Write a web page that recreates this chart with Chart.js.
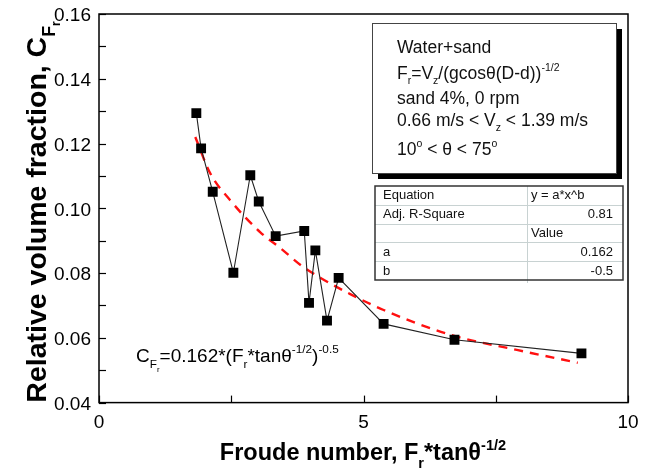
<!DOCTYPE html>
<html><head><meta charset="utf-8">
<script src="https://cdn.jsdelivr.net/npm/chart.js@4/dist/chart.umd.min.js"></script>
<style>html,body{margin:0;padding:0;background:#fff}#wrap{width:660px;height:476px;position:relative}</style>
</head><body><div id="wrap"><canvas id="c" width="660" height="476"></canvas></div>
<script>
// ---- data ----
const froude = [1.84, 1.93, 2.15, 2.54, 2.86, 3.02, 3.34, 3.88, 3.97, 4.09, 4.31, 4.53, 5.38, 6.72, 9.12];
const volumeFraction = [0.1294, 0.1185, 0.1051, 0.0801, 0.1102, 0.1021, 0.0914, 0.0930, 0.0708, 0.0870, 0.0653, 0.0785, 0.0643, 0.0594, 0.0552];
const fitX = [1.82, 2.10, 2.48, 3.05, 3.43, 3.81, 4.19, 4.75, 5.38, 6.65, 7.92, 9.05];
const fitY = [0.1220, 0.1109, 0.1025, 0.0926, 0.0877, 0.0825, 0.0785, 0.0735, 0.0686, 0.0609, 0.0562, 0.0523];
const xTickLabels = ['0', '5', '10'];
const yTickLabels = ['0.04', '0.06', '0.08', '0.10', '0.12', '0.14', '0.16'];
const tableRows = [['Equation', 'y = a*x^b'], ['Adj. R-Square', '0.81'], ['', 'Value'], ['a', '0.162'], ['b', '-0.5']];

const FONT = '"Liberation Sans", Arial, Helvetica, sans-serif';

function rich(ctx, parts, x, y, size, weight, align) {
  let total = 0;
  for (const [t, dy, s] of parts) { ctx.font = `${weight} ${size * s}px ${FONT}`; total += ctx.measureText(t).width; }
  let cx = align === 'center' ? x - total / 2 : x;
  ctx.textAlign = 'left'; ctx.textBaseline = 'alphabetic';
  for (const [t, dy, s] of parts) {
    ctx.font = `${weight} ${size * s}px ${FONT}`;
    ctx.fillText(t, cx, y + dy * size);
    cx += ctx.measureText(t).width;
  }
}

const decor = {
  id: 'decor',
  afterDraw(chart) {
    const ctx = chart.ctx, a = chart.chartArea;
    const xs = chart.scales.x, ys = chart.scales.y;
    ctx.save();
    ctx.fillStyle = '#000'; ctx.strokeStyle = '#000';
    // frame
    ctx.lineWidth = 1.5;
    ctx.strokeRect(a.left, a.top, a.right - a.left, a.bottom - a.top);
    // inward ticks
    ctx.lineWidth = 1.2;
    for (let v = 0.04; v <= 0.1601; v += 0.01) {
      const py = Math.round(ys.getPixelForValue(v)) + 0.5;
      ctx.beginPath(); ctx.moveTo(a.left, py); ctx.lineTo(a.left + 7, py); ctx.stroke();
    }
    for (let v = 0; v <= 10.01; v += 2.5) {
      const px = Math.round(xs.getPixelForValue(v)) + 0.5;
      ctx.beginPath(); ctx.moveTo(px, a.bottom); ctx.lineTo(px, a.bottom - 7); ctx.stroke();
    }
    // x title
    rich(ctx, [['Froude number, F', 0, 1], ['r', 0.32, 0.62], ['*tan\u03b8', 0, 1], ['-1/2', -0.42, 0.62]],
      363, 460, 23.5, 'bold', 'center');
    // y title
    ctx.save();
    ctx.translate(46, 212); ctx.rotate(-Math.PI / 2);
    rich(ctx, [['Relative volume fraction, C', 0, 1], ['F', 0.3, 0.62], ['r', 0.5, 0.42]], 0, 0, 28.5, 'bold', 'center');
    ctx.restore();
    // annotation box with shadow
    ctx.fillStyle = '#000';
    ctx.fillRect(378, 29, 244, 150);
    ctx.fillStyle = '#fff';
    ctx.fillRect(372, 23, 244, 150);
    ctx.lineWidth = 1; ctx.strokeStyle = '#444';
    ctx.strokeRect(372.5, 23.5, 244, 150);
    ctx.fillStyle = '#111';
    const fs = 17.5, bx = 397;
    rich(ctx, [['Water+sand', 0, 1]], bx, 53, fs, 'normal');
    rich(ctx, [['F', 0, 1], ['r', 0.3, 0.6], ['=V', 0, 1], ['z', 0.3, 0.6], ['/(gcos\u03b8(D-d))', 0, 1], ['-1/2', -0.45, 0.6]], bx, 79, fs, 'normal');
    rich(ctx, [['sand 4%, 0 rpm', 0, 1]], bx, 104, fs, 'normal');
    rich(ctx, [['0.66 m/s < V', 0, 1], ['z', 0.3, 0.6], [' < 1.39 m/s', 0, 1]], bx, 126, fs, 'normal');
    rich(ctx, [['10', 0, 1], ['o', -0.45, 0.6], [' < \u03b8 < 75', 0, 1], ['o', -0.45, 0.6]], bx, 155, fs, 'normal');
    // table
    const tl = 375, tr = 623, tt = 186, rh = 18.8, tc = 527;
    const tb = tt + rh * tableRows.length;
    ctx.fillStyle = '#fff'; ctx.fillRect(tl, tt, tr - tl, tb - tt);
    ctx.strokeStyle = '#c8d2d2'; ctx.lineWidth = 1;
    for (let i = 1; i < tableRows.length; i++) {
      const yy = Math.round(tt + rh * i) + 0.5;
      ctx.beginPath(); ctx.moveTo(tl, yy); ctx.lineTo(tr, yy); ctx.stroke();
    }
    ctx.beginPath(); ctx.moveTo(tc + 0.5, tt); ctx.lineTo(tc + 0.5, tb + 3); ctx.stroke();
    ctx.strokeStyle = '#333'; ctx.lineWidth = 1.5;
    ctx.strokeRect(tl, tt, tr - tl, tb - tt);
    ctx.fillStyle = '#111';
    ctx.font = `13px ${FONT}`; ctx.textBaseline = 'middle';
    tableRows.forEach((r, i) => {
      const cy = tt + rh * i + rh / 2 + 0.5;
      ctx.textAlign = 'left'; ctx.fillText(r[0], 383, cy);
      const numeric = /^-?[0-9.]+$/.test(r[1]);
      if (numeric) { ctx.textAlign = 'right'; ctx.fillText(r[1], 613, cy); }
      else { ctx.textAlign = 'left'; ctx.fillText(r[1], 531, cy); }
    });
    // equation
    ctx.fillStyle = '#000';
    rich(ctx, [['C', 0, 1], ['F', 0.3, 0.62], ['r', 0.5, 0.42], ['=0.162*(F', 0, 1], ['r', 0.3, 0.62], ['*tan\u03b8', 0, 1], ['-1/2', -0.45, 0.62], [')', 0, 1], ['-0.5', -0.5, 0.62]],
      136, 362, 19, 'normal');
    ctx.restore();
  }
};

const pts = froude.map((x, i) => ({ x, y: volumeFraction[i] }));
const fit = fitX.map((x, i) => ({ x, y: fitY[i] }));

new Chart(document.getElementById('c'), {
  type: 'scatter',
  data: {
    datasets: [
      { data: fit, showLine: true, borderColor: '#ff1010', borderWidth: 2.4, borderDash: [9, 7], pointRadius: 0, cubicInterpolationMode: 'monotone', order: 2 },
      { data: pts, showLine: true, borderColor: '#222', borderWidth: 1.1, pointStyle: 'rect', pointRadius: 7, pointBackgroundColor: '#000', pointBorderColor: '#000', pointBorderWidth: 0, order: 1 }
    ]
  },
  options: {
    responsive: false, animation: false,
    layout: { padding: { left: 0, right: 32, top: 14, bottom: 0 } },
    plugins: { legend: { display: false }, tooltip: { enabled: false } },
    scales: {
      x: {
        type: 'linear', min: 0, max: 10,
        grid: { display: false }, border: { display: false },
        afterFit: s => { s.height = 73.4; },
        ticks: {
          stepSize: 2.5, padding: 1, color: '#000', autoSkip: false, maxRotation: 0,
          font: { family: FONT, size: 19 },
          callback: v => xTickLabels.find(l => Math.abs(parseFloat(l) - v) < 1e-6) || ''
        }
      },
      y: {
        type: 'linear', min: 0.04, max: 0.16,
        grid: { display: false }, border: { display: false },
        afterFit: s => { s.width = 99; },
        ticks: {
          stepSize: 0.01, padding: 0, labelOffset: 2, color: '#000', autoSkip: false,
          font: { family: FONT, size: 19 },
          callback: v => yTickLabels.find(l => Math.abs(parseFloat(l) - v) < 1e-6) || ''
        }
      }
    }
  },
  plugins: [decor]
});
</script></body></html>
